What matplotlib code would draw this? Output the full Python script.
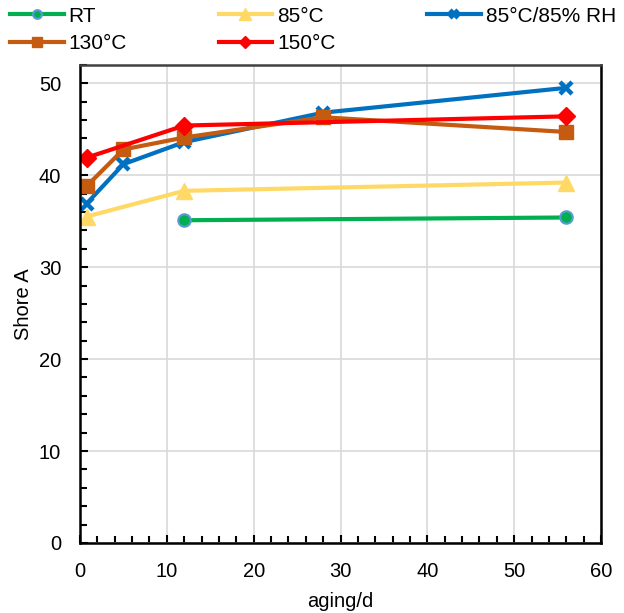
import matplotlib
matplotlib.use("Agg")
import matplotlib.pyplot as plt
from matplotlib.ticker import MultipleLocator

plt.rcParams['font.family'] = ['Liberation Sans', 'DejaVu Sans']

# aging time in days and Shore A hardness per condition
rt_x = [12, 56]
rt_y = [35.1, 35.4]
t85_x = [0.75, 12, 56]
t85_y = [35.5, 38.3, 39.2]
hum_x = [0.75, 5, 12, 28, 56]
hum_y = [36.9, 41.2, 43.6, 46.8, 49.5]
t130_x = [0.75, 5, 12, 28, 56]
t130_y = [38.8, 42.8, 44.1, 46.3, 44.7]
t150_x = [0.75, 12, 56]
t150_y = [41.9, 45.4, 46.4]

fig = plt.figure(figsize=(6.24, 6.13), dpi=100)
ax = fig.add_axes([0.1282, 0.1142, 0.835, 0.78])

lw = 3
l_rt, = ax.plot(rt_x, rt_y, color='#00B050', lw=lw, marker='o', ms=9,
                mfc='#00B050', mec='#5B9BD5', mew=1.5, label='RT')
l_85, = ax.plot(t85_x, t85_y, color='#FFD966', lw=lw, marker='^', ms=12,
                label='85°C')
l_hum, = ax.plot(hum_x, hum_y, color='#0070C0', lw=lw, marker='x', ms=9,
                 mew=3.2, label='85°C/85% RH')
l_130, = ax.plot(t130_x, t130_y, color='#C55A11', lw=lw, marker='s', ms=10,
                 label='130°C')
l_150, = ax.plot(t150_x, t150_y, color='#FF0000', lw=lw, marker='D', ms=9,
                 label='150°C')

ax.set_xlim(0, 60)
ax.set_ylim(0, 52)
ax.xaxis.set_major_locator(MultipleLocator(10))
ax.xaxis.set_minor_locator(MultipleLocator(2))
ax.yaxis.set_major_locator(MultipleLocator(10))
ax.yaxis.set_minor_locator(MultipleLocator(2))
ax.grid(True, which='major', color='#D9D9D9', lw=1.2)
ax.set_axisbelow(True)
ax.tick_params(which='both', direction='in', labelsize=14.5, width=1.5)
ax.tick_params(which='major', length=6, pad=13.5)
ax.tick_params(which='minor', length=5)
for s in ax.spines.values():
    s.set_linewidth(1.8)
ax.spines['top'].set_color('#404040')

ax.set_xlabel('aging/d', fontsize=14.5, labelpad=8)
ax.set_ylabel('Shore A', fontsize=14.5, labelpad=4)

# legend fills column by column, so order handles to read row-wise
handles = [l_rt, l_130, l_85, l_150, l_hum]
fig.legend(handles=handles, labels=[h.get_label() for h in handles],
           loc='upper left', bbox_to_anchor=(10 / 624, 0.989), ncol=3,
           frameon=False, fontsize=15, handlelength=2.57, handletextpad=0.24,
           columnspacing=4.4, labelspacing=0.4, borderpad=0,
           borderaxespad=0, markerscale=0.7)

fig.savefig('out.png', dpi=100)
